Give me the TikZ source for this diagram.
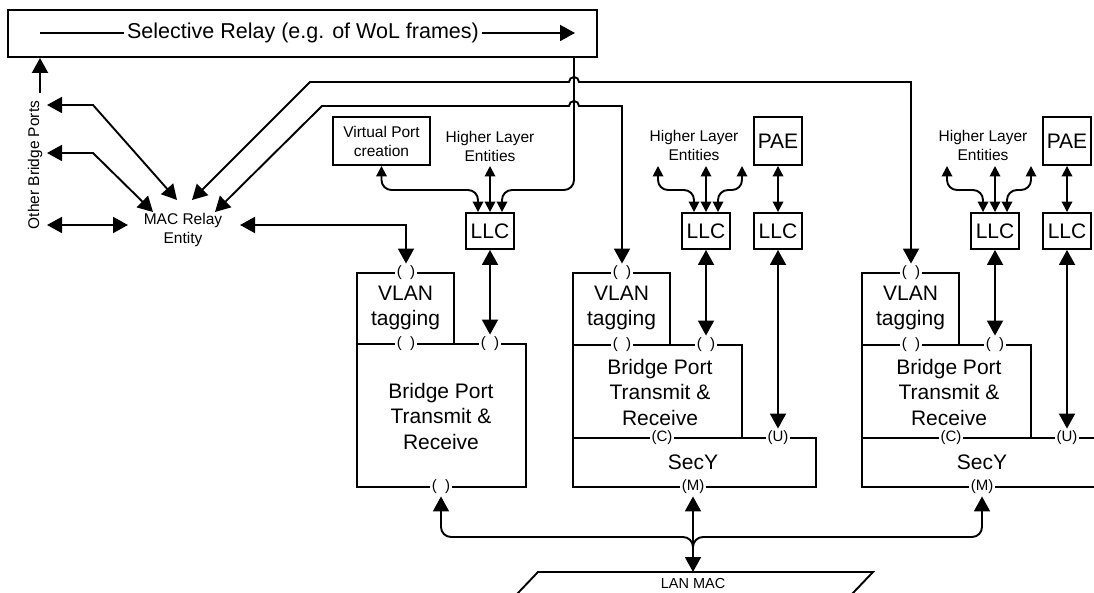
\documentclass[tikz,border=0pt]{standalone}
\usepackage{fontspec}
\setmainfont{Liberation Sans}
\usetikzlibrary{arrows.meta}
\tikzset{
  BT/.tip={Triangle[length=15pt,width=16pt]},
  ST/.tip={Triangle[length=10.5pt,width=10.5pt]},
  big/.style={font=\fontsize{21}{25.5}\selectfont, align=center, inner sep=0pt},
  sm/.style={font=\fontsize{15.5}{19}\selectfont, align=center, inner sep=0pt},
  lab/.style={font=\fontsize{15}{17}\selectfont, fill=white, inner sep=1.5pt},
  box/.style={draw, inner sep=0pt},
  llcbox/.style={box, minimum width=48pt, minimum height=36pt, font=\fontsize{21}{25}\selectfont},
  paebox/.style={box, minimum width=48pt, minimum height=48pt, font=\fontsize{21}{25}\selectfont}
}
\begin{document}
\begin{tikzpicture}[x=1pt,y=-1pt,line width=1.9pt]
\useasboundingbox (0,0) rectangle (1094,593);

% Selective relay
\node[box, minimum width=589pt, minimum height=47pt] (sel) at (302.5,33.5) {};
\node[big, font=\fontsize{21.5}{25}\selectfont, inner sep=2pt] (seltxt) at (303,33) {Selective Relay (e.g. of WoL frames)};
\coordinate (sl) at (40,33);
\coordinate (sr) at (575,33);
\draw (sl) -- (seltxt.west);
\draw[-BT] (seltxt.east) -- (sr);

% Other bridge ports
\node[sm, rotate=90] (obp) at (35,165) {Other Bridge Ports};
\coordinate (obpup) at (40,93);
\draw[-BT] (obpup) -- (obpup |- sel.south);

% MAC relay
\node[sm] (mac) at (183,230) {MAC Relay\\Entity};
\coordinate (p1) at (47,105);
\coordinate (p2) at (47,153);
\coordinate (p3) at (47,225);
\coordinate (m1) at (177,200);
\coordinate (m2) at (153,212);
\coordinate (m3) at (128,225);
\coordinate (mA) at (192,200);
\coordinate (mB) at (215,212);
\coordinate (mR) at (240,225);
\draw[BT-BT] (p1) -- (93,105) -- (m1);
\draw[BT-BT] (p2) -- (93,153) -- (m2);
\draw[BT-BT] (p3) -- (m3);

% Box 1 outline
\draw (357,273) rectangle (454,344);
\draw (357,344) rectangle (526,487);
% Box 2 outline
\draw (573,273) rectangle (670,345);
\draw (573,345) rectangle (742,438);
\draw (573,438) rectangle (816,487);
% Box 3 outline
\draw (862,273) rectangle (959,345);
\draw (862,345) rectangle (1031,438);
\draw (1094,438) -- (862,438) -- (862,487) -- (1094,487);

% texts in boxes
\node[big] (vlan1) at (405.5,308) {VLAN\\tagging};
\node[big] (bp1) at (441,416) {Bridge Port\\Transmit \&\\Receive};
\node[big] (vlan2) at (621.5,308) {VLAN\\tagging};
\node[big] (bp2) at (660,392) {Bridge Port\\Transmit \&\\Receive};
\node[big] (secy2) at (693,462) {SecY};
\node[big] (vlan3) at (910.5,308) {VLAN\\tagging};
\node[big] (bp3) at (949,392) {Bridge Port\\Transmit \&\\Receive};
\node[big] (secy3) at (982,462) {SecY};

% port labels
\node[lab] (v1t) at (406,273) {(\ \ )};
\node[lab] (b1a) at (406,344) {(\ \ )};
\node[lab] (b1b) at (490,344) {(\ \ )};
\node[lab] (b1m) at (441,487) {(\ \ )};
\node[lab] (v2t) at (622,273) {(\ \ )};
\node[lab] (b2a) at (622,345) {(\ \ )};
\node[lab] (b2b) at (706,345) {(\ \ )};
\node[lab] (c2) at (662,438) {(C)};
\node[lab] (u2) at (778,438) {(U)};
\node[lab] (m2l) at (693,487) {(M)};
\node[lab] (v3t) at (911,273) {(\ \ )};
\node[lab] (b3a) at (911,345) {(\ \ )};
\node[lab] (b3b) at (995,345) {(\ \ )};
\node[lab] (c3) at (951,438) {(C)};
\node[lab] (u3) at (1067,438) {(U)};
\node[lab] (m3l) at (982,487) {(M)};

% upper entities
\node[box, minimum width=97pt, minimum height=48pt, sm] (vpc) at (381.5,141) {Virtual Port\\creation};
\node[sm] (hle1) at (490,146) {Higher Layer\\Entities};
\node[sm] (hle2) at (694,145) {Higher Layer\\Entities};
\node[sm] (hle3) at (983,145) {Higher Layer\\Entities};
\node[llcbox] (llc1) at (490,231) {LLC};
\node[llcbox] (llc2a) at (706,231) {LLC};
\node[llcbox] (llc2b) at (778,231) {LLC};
\node[llcbox] (llc3a) at (995,231) {LLC};
\node[llcbox] (llc3b) at (1067,231) {LLC};
\node[paebox] (pae2) at (778,141) {PAE};
\node[paebox] (pae3) at (1067,141) {PAE};

% long relay lines with humps
\draw[BT-BT] (mA) -- (310,82) -- (569,82) arc[start angle=180,end angle=360,radius=5] -- (911,82) -- (v3t.north);
\draw[BT-BT] (mB) -- (322,106) -- (569,106) arc[start angle=180,end angle=360,radius=5] -- (622,106) -- (v2t.north);
\draw[BT-BT] (mR) -- (406,225) -- (v1t.north);

% selective relay down to LLC1
\coordinate (selv) at (574,0);
\draw[-ST, rounded corners=10pt] (sel.south -| selv) -- (574,190) -- (502,190) -- ([xshift=12pt]llc1.north);

% LLC1 tops
\draw[ST-ST, rounded corners=10pt] (vpc.south) -- (381.5,190) -- (478,190) -- ([xshift=-12pt]llc1.north);
\draw[ST-ST] (llc1.north) -- (490,166);
% LLC2 tops
\draw[ST-ST, rounded corners=10pt] (658,166) -- (658,190) -- (694,190) -- ([xshift=-12pt]llc2a.north);
\draw[ST-ST, rounded corners=10pt] (742,166) -- (742,190) -- (718,190) -- ([xshift=12pt]llc2a.north);
\draw[ST-ST] (llc2a.north) -- (706,166);
% LLC3 tops
\draw[ST-ST, rounded corners=10pt] (947,166) -- (947,190) -- (983,190) -- ([xshift=-12pt]llc3a.north);
\draw[ST-ST, rounded corners=10pt] (1031,166) -- (1031,190) -- (1007,190) -- ([xshift=12pt]llc3a.north);
\draw[ST-ST] (llc3a.north) -- (995,166);
% PAE-LLC
\draw[ST-ST] (pae2.south) -- (llc2b.north);
\draw[ST-ST] (pae3.south) -- (llc3b.north);

% LLC to ports
\draw[BT-BT] (llc1.south) -- (b1b.north);
\draw[BT-BT] (llc2a.south) -- (b2b.north);
\draw[BT-BT] (llc3a.south) -- (b3b.north);
\draw[BT-BT] (llc2b.south) -- (u2.north);
\draw[BT-BT] (llc3b.south) -- (u3.north);

% LAN MAC
\draw (517,594) -- (538,572) -- (873,572) -- (852,594);
\node[font=\fontsize{14.5}{16}\selectfont, inner sep=0pt] (lan) at (693,584) {LAN MAC};
\coordinate (lantop) at (693,572);

% bottom bus
\draw[BT-, rounded corners=10pt] (b1m.south) -- (441,537) -- (693,537) -- (693,556);
\draw[BT-, rounded corners=10pt] (m3l.south) -- (982,537) -- (693,537) -- (693,556);
\draw[BT-BT] (m2l.south) -- (lantop);
\end{tikzpicture}
\end{document}
